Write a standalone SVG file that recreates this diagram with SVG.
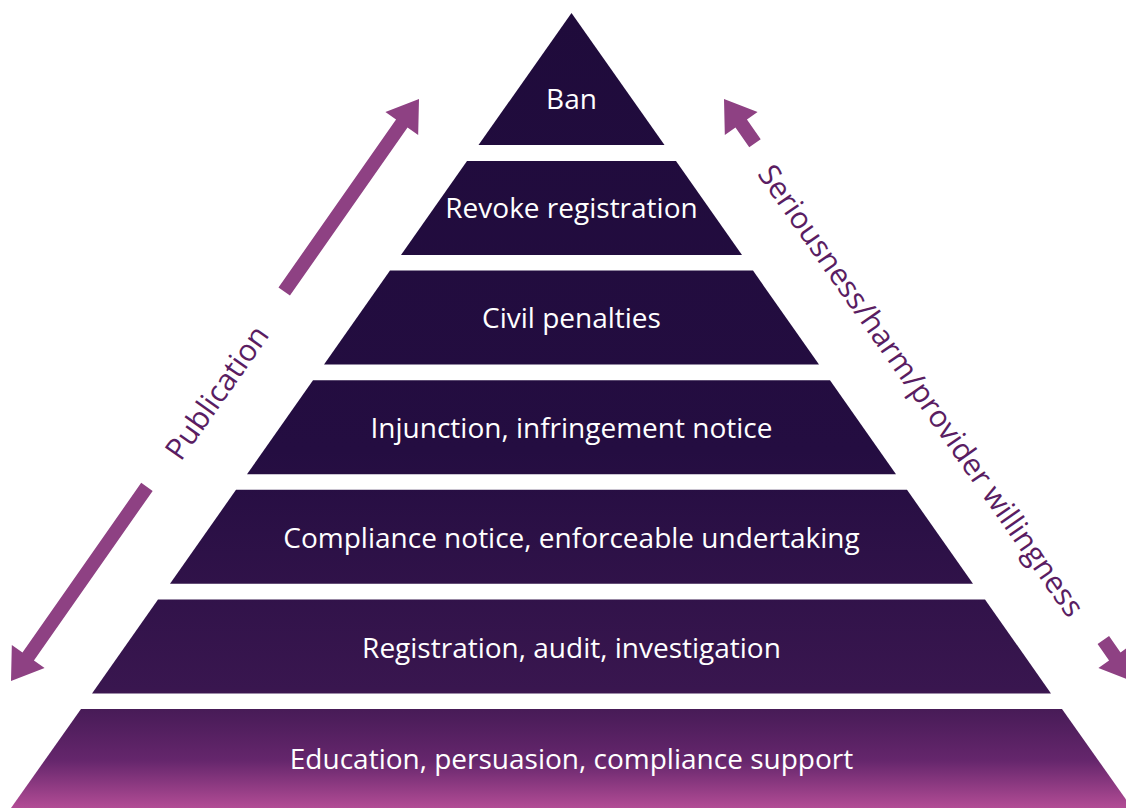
<svg xmlns="http://www.w3.org/2000/svg" width="1126" height="808" viewBox="0 0 1126 808">
<defs>
<linearGradient id="pg" gradientUnits="userSpaceOnUse" x1="0" y1="13" x2="0" y2="808">
<stop offset="0" stop-color="#1f0b3b"/>
<stop offset="0.55" stop-color="#240d41"/>
<stop offset="0.85" stop-color="#39164f"/>
<stop offset="0.875" stop-color="#471b57"/>
<stop offset="0.94" stop-color="#65266c"/>
<stop offset="1" stop-color="#b24c95"/>
</linearGradient>
<style>
.tier{fill:url(#pg);}
.lbl{font-family:"Open Sans","Noto Sans",sans-serif;font-size:28px;fill:#ffffff;text-anchor:middle;dominant-baseline:central;}
.side{font-family:"Open Sans","Noto Sans",sans-serif;font-size:30px;fill:#5a1d62;text-anchor:middle;dominant-baseline:central;}
.arr{fill:#8e4183;}
</style>
</defs>
<rect width="1126" height="808" fill="#ffffff"/>
<g id="tier-ban">
<polygon class="tier" points="571.5,13 664.5,145 478.5,145"/>
<text class="lbl" x="571.5" y="98">Ban</text>
</g>
<g id="tier-revoke">
<polygon class="tier" points="467,161 676,161 742,255 401,255"/>
<text class="lbl" x="571.5" y="207">Revoke registration</text>
</g>
<g id="tier-civil">
<polygon class="tier" points="390,270.6 753,270.6 819,364.6 324,364.6"/>
<text class="lbl" x="571.5" y="317">Civil penalties</text>
</g>
<g id="tier-injunction">
<polygon class="tier" points="313,380.2 830,380.2 896,474.2 247,474.2"/>
<text class="lbl" x="571.5" y="427">Injunction, infringement notice</text>
</g>
<g id="tier-compliance">
<polygon class="tier" points="236,489.8 907,489.8 973,583.8 170,583.8"/>
<text class="lbl" x="571.5" y="537">Compliance notice, enforceable undertaking</text>
</g>
<g id="tier-registration">
<polygon class="tier" points="158,599.4 985,599.4 1051,693.4 92,693.4"/>
<text class="lbl" x="571.5" y="647">Registration, audit, investigation</text>
</g>
<g id="tier-education">
<polygon class="tier" points="81,709 1062,709 1132,808 11,808"/>
<text class="lbl" x="571.5" y="758">Education, persuasion, compliance support</text>
</g>
<g id="connectors">
<polygon class="arr" transform="translate(419,99) rotate(-55)" points="0,0 -30,20 -30,7 -235,7 -235,-7 -30,-7 -30,-20"/>
<polygon class="arr" transform="translate(11,681) rotate(125)" points="0,0 -30,20 -30,7 -237,7 -237,-7 -30,-7 -30,-20"/>
<polygon class="arr" transform="translate(724,99) rotate(-125)" points="0,0 -30,20 -30,7 -54,7 -54,-7 -30,-7 -30,-20"/>
<polygon class="arr" transform="translate(1132,681) rotate(55)" points="0,0 -30,20 -30,7 -50,7 -50,-7 -30,-7 -30,-20"/>
</g>
<g id="label-publication">
<text class="side" transform="translate(216,392) rotate(-55)">Publication</text>
</g>
<g id="label-seriousness">
<text class="side" transform="translate(922,390) rotate(55)">Seriousness/harm/provider willingness</text>
</g>
</svg>
